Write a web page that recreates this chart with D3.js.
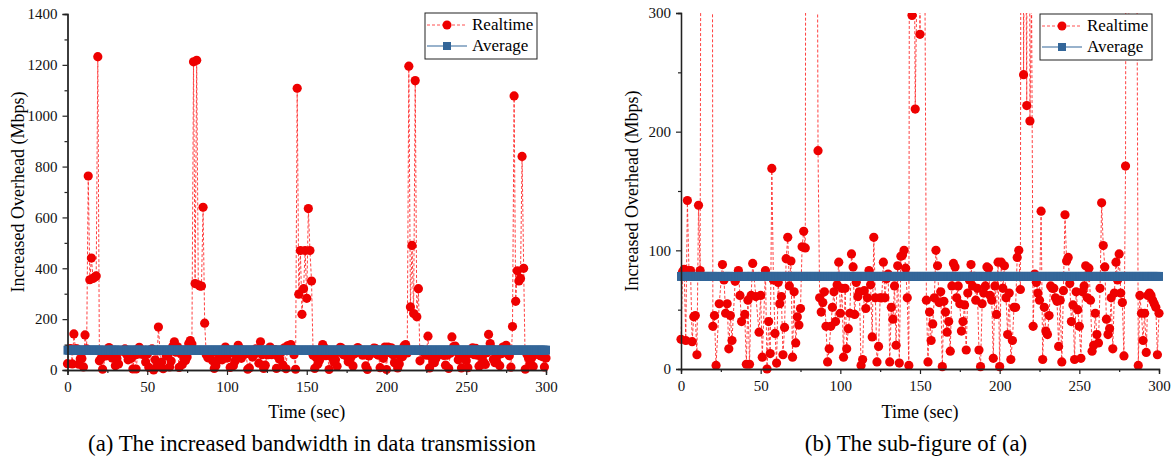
<!DOCTYPE html>
<html>
<head>
<meta charset="utf-8">
<script src="https://d3js.org/d3.v7.min.js"></script>
<style>
  body { margin: 0; background: #fff; }
</style>
</head>
<body>
<div id="chart"></div>
<script>
// time samples (sec) and realtime overhead (Mbps)
const timeSec = [
  0,1,2,3,4,5,6,7,8,9,10,11,12,13,14,15,16,17,18,19,20,21,22,24,26,27,28,29,30,31,32,34,36,37,38,40,41,42,43,44,45,47,49,
  50,51,53,54,55,56,57,58,59,60,61,62,63,64,65,66,67,68,69,70,71,72,73,74,75,76,77,78,79,80,81,82,83,84,85,86,87,88,89,
  90,91,92,93,94,95,96,97,98,99,100,101,102,103,104,105,106,107,108,109,110,111,112,113,114,115,116,117,118,119,120,
  121,122,123,124,125,126,127,128,129,130,131,132,133,134,135,136,137,138,139,140,141,142,143,144,145,146,147,148,149,
  150,151,152,153,154,155,156,157,158,159,160,161,162,163,164,165,166,167,168,169,170,171,172,173,174,175,176,177,178,
  179,180,181,182,183,184,185,186,187,188,189,190,191,192,193,194,195,196,197,198,199,200,201,202,203,204,205,206,207,
  208,209,210,211,212,213,214,215,216,217,218,219,220,221,222,223,224,225,226,227,228,229,230,231,232,233,234,235,236,
  237,238,239,240,241,242,243,244,245,246,247,248,249,250,251,252,253,254,255,256,257,258,259,260,261,262,263,264,265,
  266,267,268,269,270,271,272,273,274,275,276,277,278,279,280,281,282,283,284,285,286,287,288,289,290,291,292,293,294,
  295,296,297,298,299,300
];
const realtime = [
  25,82,84,24,142,83,83,23,44,45,12,138,83,763,355,440,360,365,370,1232,36,45,3,55,88,75,47,55,17,45,24,74,83,62,40,46,4,58,4,62,89,61,31,
  62,10,83,0,40,13,169,75,30,5,73,55,61,12,35,93,111,70,91,10,65,22,44,37,51,103,116,102,1212,340,1218,335,330,330,640,184,60,48,56,
  65,36,6,17,36,52,65,40,71,90,47,68,10,68,17,34,47,97,86,46,73,61,65,3,8,66,51,60,83,71,27,
  111,60,6,19,60,60,90,60,76,80,6,52,42,70,20,87,5,95,96,100,85,60,3,1108,298,470,219,320,470,
  282,635,470,350,58,6,48,24,38,60,100,87,56,65,2,57,48,31,40,15,70,89,86,60,70,55,32,40,54,
  16,64,75,88,70,78,58,68,16,2,55,64,70,86,85,62,58,9,70,46,90,2,90,68,87,60,29,64,8,
  24,52,52,94,100,67,1195,248,490,222,1138,209,320,36,80,73,64,58,133,8,52,32,29,45,70,68,68,60,57,
  19,58,6,66,130,91,94,72,40,54,8,65,50,36,9,65,70,87,60,85,58,15,20,47,29,22,68,140,104,
  86,42,29,34,60,17,64,90,75,97,64,56,11,171,1078,270,390,350,360,840,400,3,62,47,24,47,14,62,64,
  62,58,55,52,12,47
];
const averageValue = 78;

// axis ticks
const xTicks = [0, 50, 100, 150, 200, 250, 300];
const yTicksFull = [0, 200, 400, 600, 800, 1000, 1200, 1400];
const yTicksSub = [0, 100, 200, 300];

const legendNames = ["Realtime", "Average"];
const captions = ["(a) The increased bandwidth in data transmission", "(b) The sub-figure of (a)"];

const canvWidth = 1176, canvHeight = 474;
const redColor = "#ee0000", blueColor = "#336699";
const serif = "'Liberation Serif', 'Times New Roman', Times, 'DejaVu Serif', serif";

const svg = d3.select("#chart").append("svg")
    .attr("width", canvWidth)
    .attr("height", canvHeight);

const points = timeSec.map((t, i) => ({t: t, v: realtime[i]}));

// one panel: plot box, scales, ticks, series, legend
function drawPanel(cfg) {
    const x = d3.scaleLinear().domain([0, 300]).range([cfg.left, cfg.right]);
    const y = d3.scaleLinear().domain([0, cfg.yMax]).range([cfg.bottom, cfg.top]);
    const g = svg.append("g").attr("id", cfg.id);

    // clip only the top, markers may sit over the x axis
    g.append("clipPath").attr("id", cfg.id + "-clip")
      .append("rect")
        .attr("x", cfg.left - 8)
        .attr("y", cfg.top)
        .attr("width", cfg.right - cfg.left + 16)
        .attr("height", cfg.bottom - cfg.top + 10);

    const plot = g.append("g").attr("clip-path", `url(#${cfg.id}-clip)`);

    const line = d3.line().x(d => x(d.t)).y(d => y(d.v));

    plot.append("path")
        .datum(points)
        .attr("d", line)
        .attr("fill", "none")
        .attr("stroke", "#ff2020")
        .attr("stroke-opacity", 0.85)
        .attr("stroke-width", 1)
        .attr("stroke-dasharray", "3,2");

    plot.selectAll("circle.rt")
        .data(points)
        .join("circle")
          .attr("class", "rt")
          .attr("cx", d => x(d.t))
          .attr("cy", d => y(d.v))
          .attr("r", 4.6)
          .attr("fill", redColor);

    // average series: square markers at every sample make the thick band
    plot.append("line")
        .attr("x1", x(0)).attr("x2", x(300))
        .attr("y1", y(averageValue)).attr("y2", y(averageValue))
        .attr("stroke", blueColor)
        .attr("stroke-width", 1.5);

    plot.selectAll("rect.avg")
        .data(timeSec)
        .join("rect")
          .attr("class", "avg")
          .attr("x", d => x(d) - 4)
          .attr("y", y(averageValue) - 4.5)
          .attr("width", 8)
          .attr("height", 9)
          .attr("fill", blueColor);

    // axes
    const xAxis = d3.axisBottom(x).tickValues(xTicks).tickSize(5).tickPadding(6).tickFormat(d3.format("d"));
    const xMinor = d3.axisBottom(x).tickValues(d3.range(25, 300, 50)).tickSize(3).tickFormat("");
    const yAxis = d3.axisLeft(y).tickValues(cfg.yTicks).tickSize(5).tickPadding(5).tickFormat(d3.format("d"));
    const yMinor = d3.axisLeft(y).tickValues(cfg.yMinor).tickSize(3).tickFormat("");

    [xAxis, xMinor].forEach(a => {
        g.append("g")
            .attr("transform", `translate(0,${cfg.bottom})`)
            .call(a)
            .attr("font-family", serif)
            .attr("font-size", 15);
    });
    [yAxis, yMinor].forEach(a => {
        g.append("g")
            .attr("transform", `translate(${cfg.left},0)`)
            .call(a)
            .attr("font-family", serif)
            .attr("font-size", 15);
    });
    g.selectAll(".domain").attr("stroke", "#222").attr("stroke-width", 1.3);
    g.selectAll(".tick line").attr("stroke", "#222").attr("stroke-width", 1.2);
    g.selectAll(".tick text").attr("fill", "#111");

    // axis titles
    g.append("text")
        .attr("x", (cfg.left + cfg.right) / 2)
        .attr("y", 418)
        .attr("text-anchor", "middle")
        .attr("font-family", serif)
        .attr("font-size", 18)
        .text("Time (sec)");

    g.append("text")
        .attr("transform", `translate(${cfg.titleX},${(cfg.top + cfg.bottom) / 2}) rotate(-90)`)
        .attr("text-anchor", "middle")
        .attr("font-family", serif)
        .attr("font-size", 18)
        .text("Increased Overhead (Mbps)");

    // caption under panel
    g.append("text")
        .attr("x", cfg.captionX)
        .attr("y", 451)
        .attr("text-anchor", "middle")
        .attr("font-family", serif)
        .attr("font-size", 22.8)
        .text(cfg.caption);

    // legend
    const lg = g.append("g").attr("transform", `translate(${cfg.legendX},${cfg.legendY})`);
    lg.append("rect")
        .attr("width", 112).attr("height", 46)
        .attr("fill", "#fff")
        .attr("stroke", "#222")
        .attr("stroke-width", 1);

    lg.append("line")
        .attr("x1", 2).attr("x2", 42).attr("y1", 12).attr("y2", 12)
        .attr("stroke", "#ff5050").attr("stroke-width", 1).attr("stroke-dasharray", "3,2");
    lg.append("circle").attr("cx", 22).attr("cy", 12).attr("r", 4.5).attr("fill", redColor);

    lg.append("line")
        .attr("x1", 2).attr("x2", 42).attr("y1", 33).attr("y2", 33)
        .attr("stroke", blueColor).attr("stroke-width", 1.2);
    lg.append("rect").attr("x", 18).attr("y", 29).attr("width", 8).attr("height", 8).attr("fill", blueColor);

    lg.selectAll("text.leg")
        .data(legendNames)
        .join("text")
          .attr("class", "leg")
          .attr("x", 47)
          .attr("y", (d, i) => 17 + i * 21)
          .attr("font-family", serif)
          .attr("font-size", 17)
          .text(d => d);
}

drawPanel({
    id: "panelA", left: 67.5, right: 546, top: 14, bottom: 370,
    yMax: 1400, yTicks: yTicksFull, yMinor: d3.range(100, 1400, 200),
    titleX: 24, captionX: 312, caption: captions[0],
    legendX: 425, legendY: 13
});

drawPanel({
    id: "panelB", left: 681, right: 1159, top: 13, bottom: 369,
    yMax: 300, yTicks: yTicksSub, yMinor: d3.range(50, 300, 100),
    titleX: 638, captionX: 916, caption: captions[1],
    legendX: 1040, legendY: 14
});
</script>
</body>
</html>
